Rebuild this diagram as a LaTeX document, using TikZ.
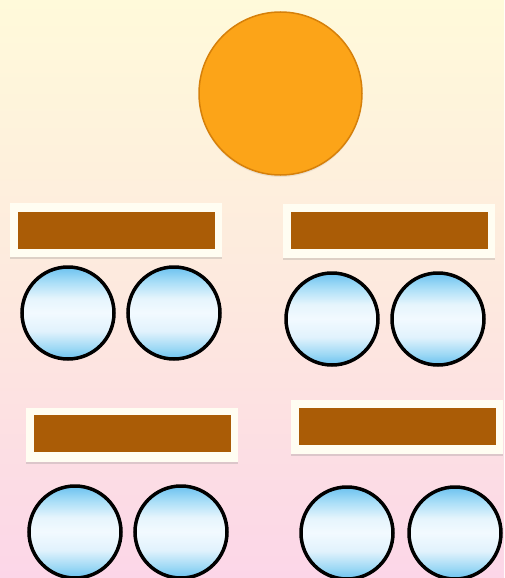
\documentclass[tikz,border=0pt]{standalone}
\usetikzlibrary{shadows}
\definecolor{bgtop}{RGB}{255,250,218}
\definecolor{bgmid}{RGB}{253,233,222}
\definecolor{bgbot}{RGB}{252,214,232}
\definecolor{orangefill}{RGB}{252,164,24}
\definecolor{orangerim}{RGB}{214,128,10}
\definecolor{brownbar}{RGB}{170,92,6}
\definecolor{framewhite}{RGB}{255,253,242}
\pgfdeclareverticalshading{glassblue}{100bp}{%
  rgb(0bp)=(0.42,0.76,0.94);
  rgb(25bp)=(0.42,0.76,0.94);
  rgb(31bp)=(0.62,0.85,0.96);
  rgb(40bp)=(0.88,0.95,0.99);
  rgb(50bp)=(0.95,0.98,1.0);
  rgb(58bp)=(0.90,0.96,0.99);
  rgb(67bp)=(0.66,0.87,0.97);
  rgb(75bp)=(0.42,0.76,0.94);
  rgb(100bp)=(0.42,0.76,0.94)}
\tikzset{
  bubble/.style={circle, draw=black, line width=3.5pt, minimum size=92pt, inner sep=0pt,
    shading=glassblue},
  frame/.style={rectangle, fill=framewhite, minimum width=212pt, minimum height=54pt, inner sep=0pt,
    drop shadow={opacity=0.25, shadow xshift=0pt, shadow yshift=-2pt}},
  bar/.style={rectangle, fill=brownbar, minimum width=197pt, minimum height=37pt, inner sep=0pt},
  sun/.style={circle, fill=orangefill, draw=orangerim, line width=1.5pt, minimum size=163pt, inner sep=0pt,
    drop shadow={opacity=0.15, shadow xshift=0pt, shadow yshift=-2pt}}
}
\begin{document}
\begin{tikzpicture}[x=1pt,y=-1pt]
\useasboundingbox (0,0) rectangle (504,578);
\fill[top color=bgtop, bottom color=bgbot, middle color=bgmid] (0,0) rectangle (504,578);
\node[sun] (top) at (280.5,93.5) {};
% top-left group
\node[frame] (f1) at (116,230) {};
\node[bar] (b1) at (116.5,230.5) {};
\node[bubble] (c1) at (68,313) {};
\node[bubble] (c2) at (174,313) {};
% top-right group
\node[frame] (f2) at (389,230.5) {};
\node[bar] (b2) at (389.5,230.5) {};
\node[bubble] (c3) at (332,319) {};
\node[bubble] (c4) at (438,319) {};
% bottom-left group
\node[frame] (f3) at (131.5,434.5) {};
\node[bar] (b3) at (132,433.5) {};
\node[bubble] (c5) at (75,532) {};
\node[bubble] (c6) at (181,532) {};
% bottom-right group
\node[frame] (f4) at (396.5,427) {};
\node[bar] (b4) at (397,426.5) {};
\node[bubble] (c7) at (347,533) {};
\node[bubble] (c8) at (455,533) {};
\end{tikzpicture}
\end{document}
